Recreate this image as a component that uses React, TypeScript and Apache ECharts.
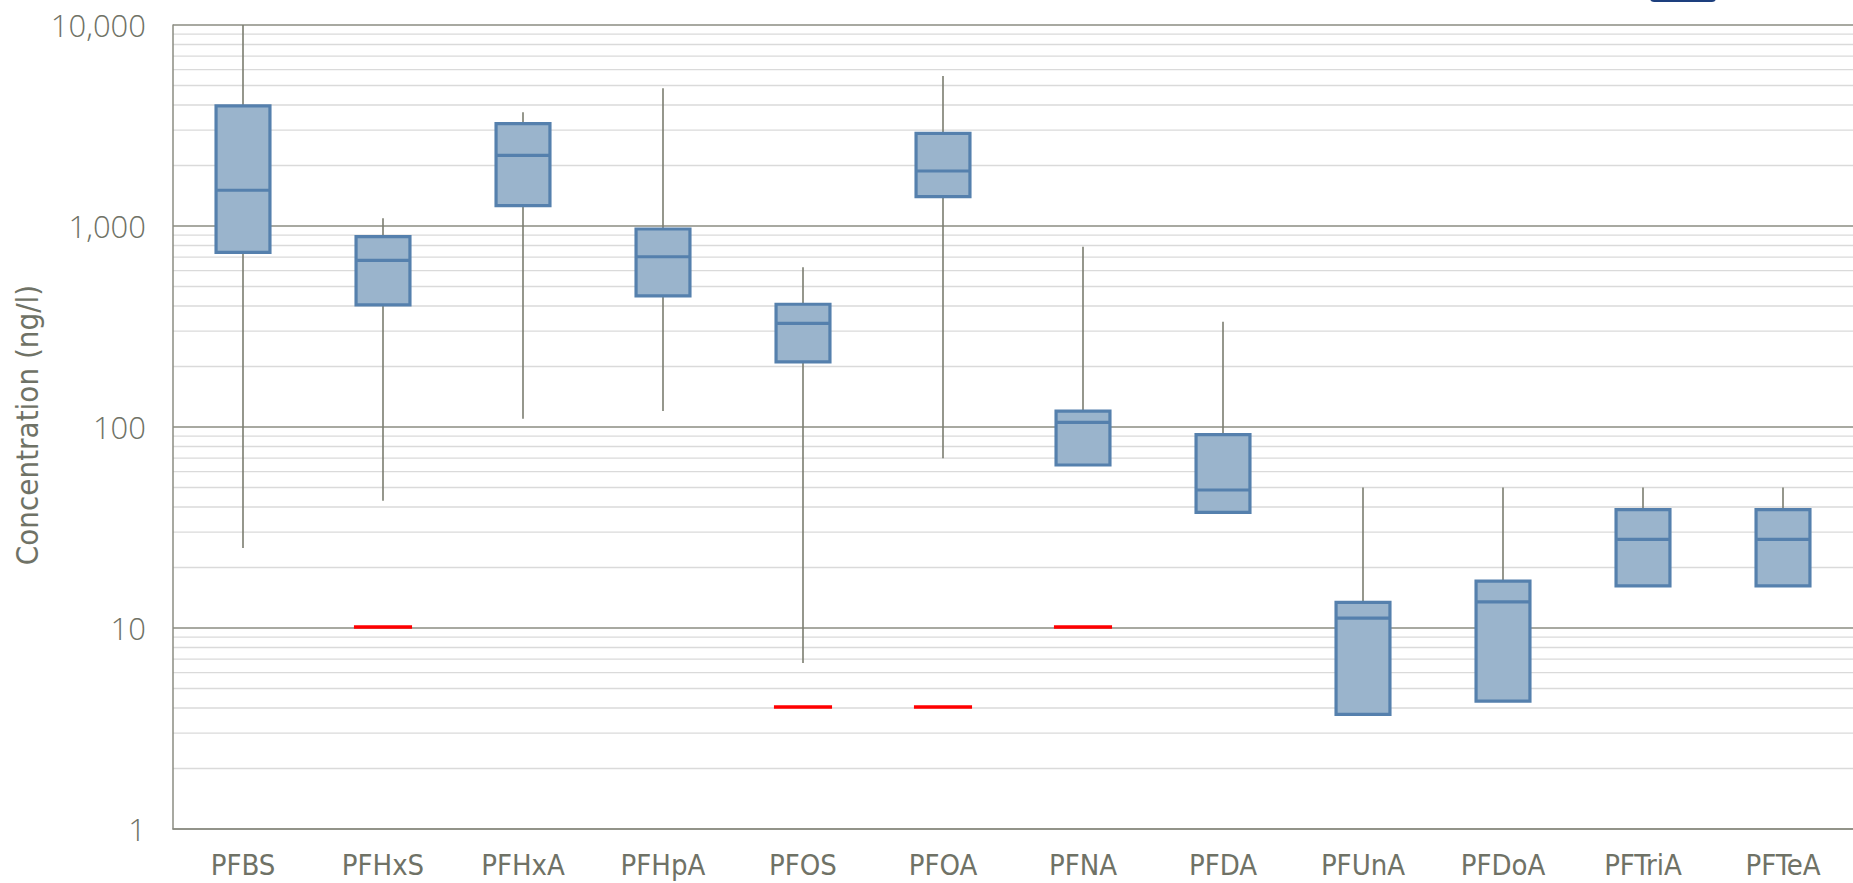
import { useEffect, useRef } from "react";
import * as echarts from "echarts";

// Substances on the category axis
const categories = [
  "PFBS", "PFHxS", "PFHxA", "PFHpA", "PFOS", "PFOA",
  "PFNA", "PFDA", "PFUnA", "PFDoA", "PFTriA", "PFTeA",
];

// Box-plot statistics per substance (ng/l)
const whiskerLow = [25, 43, 110, 120, 6.7, 70, 64.7, 37.6, 3.72, 4.33, 16.2, 16.2];
const quartile1 = [740, 405, 1262, 449, 211, 1399, 64.7, 37.6, 3.72, 4.33, 16.2, 16.2];
const medians = [1506, 675, 2248, 703, 328, 1878, 105.5, 48.6, 11.2, 13.5, 27.6, 27.6];
const quartile3 = [3955, 885, 3229, 966, 408, 2891, 120, 91.6, 13.4, 17.1, 38.8, 38.8];
const whiskerHigh = [10000, 1092, 3679, 4842, 623, 5575, 789, 334, 50, 50, 50, 50];

// Red reference levels drawn for some substances
const limitCategories = ["PFHxS", "PFOS", "PFOA", "PFNA"];
const limitValues = [10, 4, 4, 10];

// Axis range and minor grid multipliers within each decade
const yMin = 1;
const yMax = 10000;
const minorMultipliers = [2, 3, 4, 5, 6, 7, 8, 9];

const TEXT_GREY = "#6f7266";
const MAJOR_GRID = "#8b8c82";
const MINOR_GRID = "#dadada";
const BOX_FILL = "#9ab4cc";
const BOX_EDGE = "#5580ad";
const WHISKER = "#7b7d70";
const CONDENSED = "'DejaVu Sans Condensed', 'Liberation Sans Narrow', sans-serif";

export default function App() {
  const ref = useRef<HTMLDivElement>(null);

  useEffect(() => {
    if (!ref.current) return;
    const chart = echarts.init(ref.current, undefined, { renderer: "svg" });

    const boxData = categories.map((_, i) => [
      i, whiskerLow[i], quartile1[i], medians[i], quartile3[i], whiskerHigh[i],
    ]);
    const limitData = limitCategories.map((c, i) => [categories.indexOf(c), limitValues[i]]);

    // Minor gridlines at 2..9 times each power of ten
    const minorData: number[][] = [];
    for (let d = yMin; d < yMax; d *= 10) {
      minorMultipliers.forEach((m) => minorData.push([0, d * m]));
    }

    chart.setOption({
      animation: false,
      grid: { left: 173, top: 25, width: 1683, height: 804, containLabel: false },
      xAxis: {
        type: "category",
        data: categories,
        boundaryGap: true,
        z: 2,
        axisLine: { show: true, lineStyle: { color: MAJOR_GRID, width: 1.5 } },
        axisTick: { show: false },
        axisLabel: {
          color: TEXT_GREY,
          fontSize: 29,
          fontFamily: CONDENSED,
          margin: 21,
        },
        splitLine: { show: false },
      },
      yAxis: {
        type: "log",
        logBase: 10,
        min: yMin,
        max: yMax,
        z: 2,
        axisLine: { show: true, lineStyle: { color: MAJOR_GRID, width: 1.5 } },
        axisTick: { show: false },
        axisLabel: {
          color: TEXT_GREY,
          fontSize: 31,
          fontFamily: "'Open Sans', sans-serif",
          fontWeight: 300,
          margin: 27,
          formatter: (v: number) => Math.round(v).toLocaleString("en-US"),
        },
        splitLine: { show: true, lineStyle: { color: MAJOR_GRID, width: 1.5 } },
      },
      graphic: [
        {
          type: "text",
          x: 27,
          y: 425,
          rotation: Math.PI / 2,
          style: {
            text: "Concentration (ng/l)",
            fill: TEXT_GREY,
            fontSize: 31,
            fontFamily: CONDENSED,
            align: "center",
            verticalAlign: "middle",
          },
        },
        {
          type: "rect",
          shape: { x: 1650, y: -10, width: 66, height: 12, r: 4 },
          style: { fill: "#1d3f7e" },
        },
      ],
      series: [
        {
          type: "custom",
          z: 0,
          silent: true,
          data: minorData,
          encode: { x: 0, y: 1 },
          renderItem: (params: any, api: any) => {
            const cs = params.coordSys;
            const y = api.coord([0, api.value(1)])[1];
            return {
              type: "line",
              shape: { x1: cs.x, y1: y, x2: cs.x + cs.width, y2: y },
              style: { stroke: MINOR_GRID, lineWidth: 1.3 },
            };
          },
        },
        {
          type: "custom",
          z: 3,
          data: boxData,
          encode: { x: 0, y: [1, 2, 3, 4, 5] },
          renderItem: (_params: any, api: any) => {
            const idx = api.value(0);
            const x = api.coord([idx, api.value(3)])[0];
            const yLow = api.coord([idx, api.value(1)])[1];
            const yQ1 = api.coord([idx, api.value(2)])[1];
            const yMed = api.coord([idx, api.value(3)])[1];
            const yQ3 = api.coord([idx, api.value(4)])[1];
            const yHigh = api.coord([idx, api.value(5)])[1];
            const band = api.size([1, 1])[0];
            const w = band * 0.385;
            return {
              type: "group",
              children: [
                {
                  type: "line",
                  shape: { x1: x, y1: yHigh, x2: x, y2: yLow },
                  style: { stroke: WHISKER, lineWidth: 1.6 },
                },
                {
                  type: "rect",
                  shape: { x: x - w / 2, y: yQ3, width: w, height: yQ1 - yQ3 },
                  style: { fill: BOX_FILL, stroke: BOX_EDGE, lineWidth: 3.2 },
                },
                {
                  type: "line",
                  shape: { x1: x - w / 2, y1: yMed, x2: x + w / 2, y2: yMed },
                  style: { stroke: BOX_EDGE, lineWidth: 3.2 },
                },
              ],
            };
          },
        },
        {
          type: "custom",
          z: 4,
          data: limitData,
          encode: { x: 0, y: 1 },
          renderItem: (_params: any, api: any) => {
            const idx = api.value(0);
            const [x, y] = api.coord([idx, api.value(1)]);
            const band = api.size([1, 1])[0];
            const w = band * 0.415;
            return {
              type: "line",
              shape: { x1: x - w / 2, y1: y - 1, x2: x + w / 2, y2: y - 1 },
              style: { stroke: "#ff0000", lineWidth: 3.5 },
            };
          },
        },
      ],
    });

    return () => chart.dispose();
  }, []);

  return (
    <div
      ref={ref}
      style={{ position: "fixed", left: 0, top: 0, width: 1853, height: 883, background: "#ffffff" }}
    />
  );
}
